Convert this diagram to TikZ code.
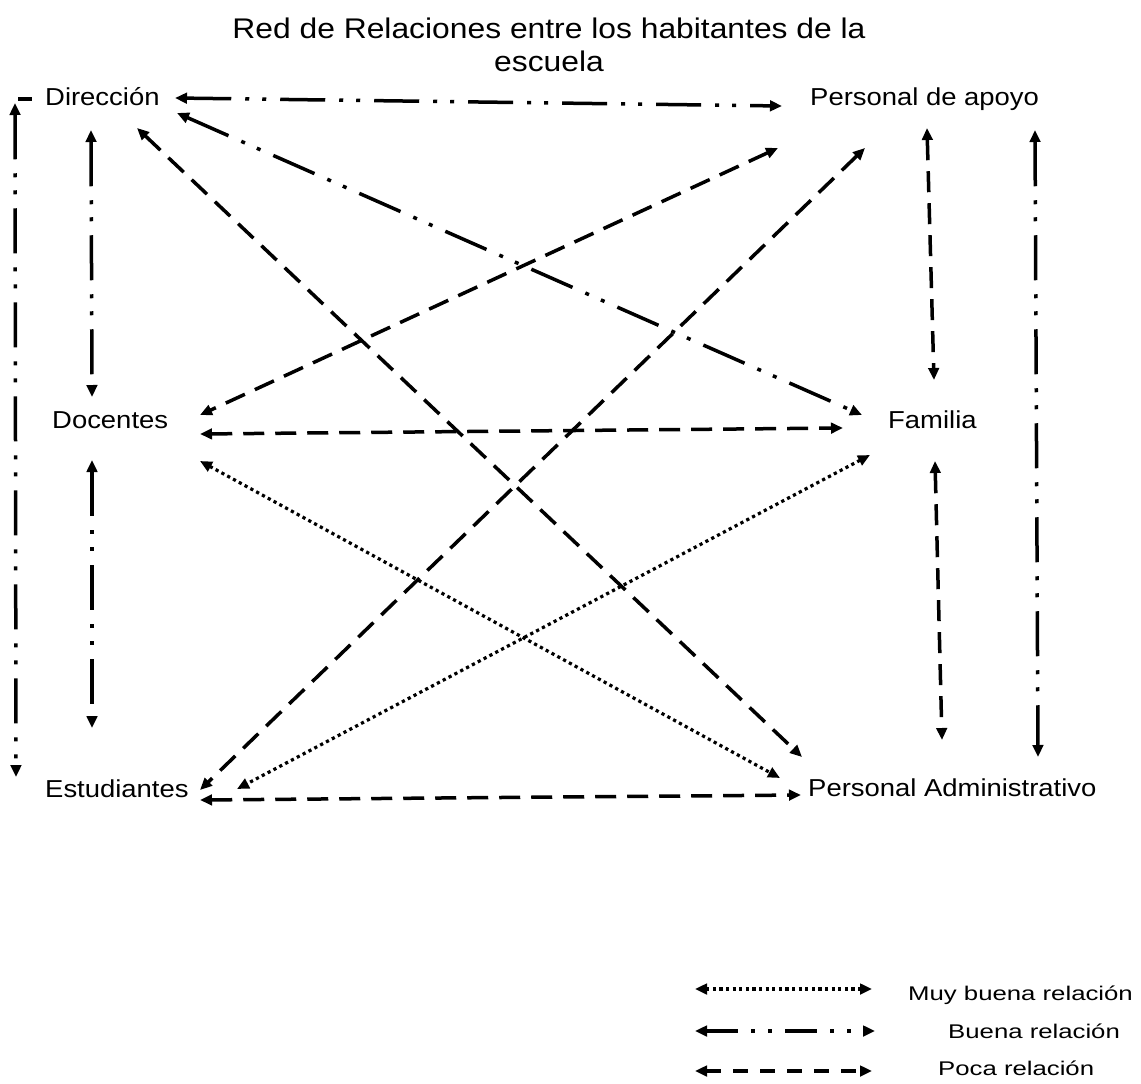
\documentclass[tikz,border=0pt]{standalone}
\usepackage{fontspec}
\setmainfont[FakeStretch=1.12]{Liberation Sans}
\newfontfamily\legfont[FakeStretch=1.3]{Liberation Sans}
\usetikzlibrary{arrows.meta}
\tikzset{
  conn/.style={line width=3.5pt, line cap=butt,
    {Triangle[length=12pt,width=10.5pt]}-{Triangle[length=12pt,width=10.5pt]}},
  muy/.style={conn, line width=3.2pt, dash pattern=on 3.2pt off 3.4pt},
  buena/.style={conn, dash pattern=on 45pt off 14pt on 4pt off 13pt on 4pt off 14pt},
  poca/.style={conn, dash pattern=on 21pt off 11pt},
  legbuena/.style={conn, dash pattern=on 32pt off 13pt on 4pt off 13pt on 4pt off 13pt},
  legpoca/.style={conn, dash pattern=on 15pt off 12pt},
  lbl/.style={anchor=base west, inner sep=0pt, font=\fontsize{24.5}{29}\selectfont},
  leg/.style={anchor=base west, inner sep=0pt, font=\legfont\fontsize{19.8}{24}\selectfont},
  ttl/.style={anchor=base, inner sep=0pt, font=\fontsize{28.4}{34}\selectfont},
}
\begin{document}
\begin{tikzpicture}[x=1pt,y=-1pt]
\useasboundingbox[fill=white] (0,0) rectangle (1141,1084);

% title
\node[ttl] (title1) at (549,38) {Red de Relaciones entre los habitantes de la};
\node[ttl] (title2) at (549,71) {escuela};

% actors
\node[lbl] (dir)  at (45,105)  {Dirección};
\node[lbl] (pa)   at (810,105) {Personal de apoyo};
\node[lbl] (doc)  at (52,428)  {Docentes};
\node[lbl] (fam)  at (888,428) {Familia};
\node[lbl] (est)  at (45,797)  {Estudiantes};
\node[lbl] (padm) at (808,796) {Personal Administrativo};

% connector ends
\coordinate (dir-pa) at (175,98);   \coordinate (pa-dir) at (782,106);
\coordinate (dir-fam) at (177,113); \coordinate (fam-dir) at (862,415);
\coordinate (dir-padm) at (137,128);\coordinate (padm-dir) at (802,757);
\coordinate (dir-doc) at (91,130);  \coordinate (doc-dir) at (92,397);
\coordinate (doc-est) at (92,460);  \coordinate (est-doc) at (92,728);
\coordinate (dir-est) at (15,103);  \coordinate (est-dir) at (16,777);
\coordinate (stub-a) at (18,99);    \coordinate (stub-b) at (32,99);
\coordinate (pa-doc) at (778,148);  \coordinate (doc-pa) at (200,415);
\coordinate (pa-est) at (865,148);  \coordinate (est-pa) at (200,790);
\coordinate (pa-fam) at (927,128);  \coordinate (fam-pa) at (934,380);
\coordinate (pa-padm) at (1035,130);\coordinate (padm-pa) at (1038,757);
\coordinate (doc-fam) at (200,434); \coordinate (fam-doc) at (843,428);
\coordinate (doc-padm) at (200,461);\coordinate (padm-doc) at (780,778);
\coordinate (fam-est) at (870,455); \coordinate (est-fam) at (237,789);
\coordinate (fam-padm) at (935,461);\coordinate (padm-fam) at (942,740);
\coordinate (est-padm) at (200,800);\coordinate (padm-est) at (801,795);

% Buena relación
\draw[buena] (dir-pa) -- (pa-dir);
\draw[buena] (dir-fam) -- (fam-dir);
\draw[buena] (dir-doc) -- (doc-dir);
\draw[buena] (doc-est) -- (est-doc);
\draw[buena] (dir-est) -- (est-dir);
\draw[line width=3.5pt] (stub-a) -- (stub-b);
\draw[buena] (pa-padm) -- (padm-pa);

% Poca relación
\draw[poca] (dir-padm) -- (padm-dir);
\draw[poca] (pa-doc) -- (doc-pa);
\draw[poca] (pa-est) -- (est-pa);
\draw[poca] (pa-fam) -- (fam-pa);
\draw[poca] (doc-fam) -- (fam-doc);
\draw[poca] (fam-padm) -- (padm-fam);
\draw[poca] (est-padm) -- (padm-est);

% Muy buena relación
\draw[muy] (doc-padm) -- (padm-doc);
\draw[muy] (fam-est) -- (est-fam);

% legend
\coordinate (l1a) at (695,989);  \coordinate (l1b) at (872,989);
\coordinate (l2a) at (695,1031); \coordinate (l2b) at (875,1031);
\coordinate (l3a) at (695,1071); \coordinate (l3b) at (872,1071);
\draw[muy] (l1a) -- (l1b);
\draw[legbuena] (l2a) -- (l2b);
\draw[legpoca] (l3a) -- (l3b);
\node[leg] (leg1) at (908,1000) {Muy buena relación};
\node[leg] (leg2) at (948,1038) {Buena relación};
\node[leg] (leg3) at (938,1075) {Poca relación};
\end{tikzpicture}
\end{document}
